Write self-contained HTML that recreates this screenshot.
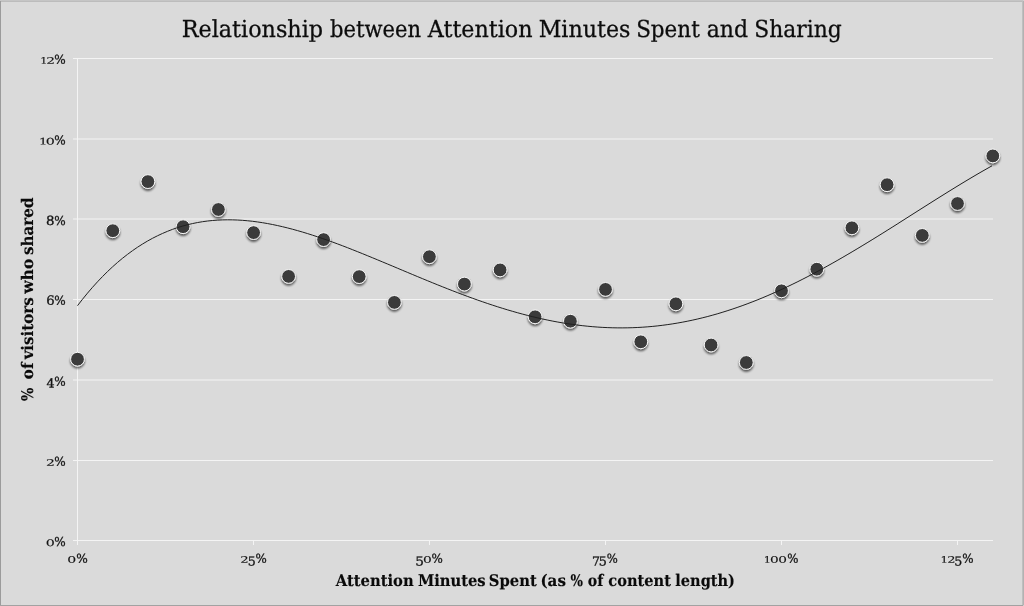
<!DOCTYPE html>
<html lang="en">
<head>
<meta charset="utf-8">
<title>Relationship between Attention Minutes Spent and Sharing</title>
<style>
html,body{margin:0;padding:0;background:#dadada;}
body{width:1024px;height:606px;overflow:hidden;position:relative;font-family:"DejaVu Serif", "Liberation Serif", serif;}
svg{display:block;position:absolute;left:0;top:0;}
text{font-family:"DejaVu Serif", "Liberation Serif", serif;fill:#111;text-rendering:geometricPrecision;}
.title{font-size:23.4px;fill:#0c0c0c;stroke:#0c0c0c;stroke-width:0.3px;}
.tick{font-size:13.0px;fill:#141414;stroke:#141414;stroke-width:0.3px;}
.tick .lo{font-size:9.0px;stroke-width:0.12px;}
.tick .hi{font-size:12.7px;}
.tick .de{font-size:12.5px;}
.tick .pc{font-size:12.4px;}
.axis{font-size:16.0px;font-weight:bold;fill:#0a0a0a;stroke:#0a0a0a;stroke-width:0.15px;}
.grid line{stroke:#f4f4f4;stroke-width:1.0;}
.pt circle{fill:#3b3b3b;stroke:#f8f8f8;stroke-width:1.0;}
</style>
</head>
<body>
<svg width="1024" height="606" viewBox="0 0 1024 606">
<defs>
<filter id="sh" x="-50%" y="-50%" width="200%" height="200%">
<feGaussianBlur in="SourceAlpha" stdDeviation="1.0"/>
<feOffset dx="0" dy="1.5" result="b"/>
<feComponentTransfer><feFuncA type="linear" slope="0.6"/></feComponentTransfer>
<feMerge><feMergeNode/><feMergeNode in="SourceGraphic"/></feMerge>
</filter>
</defs>
<rect x="0" y="0" width="1024" height="606" fill="#dadada"/>
<g shape-rendering="crispEdges">
<rect x="0" y="0" width="1024" height="1" fill="#c5c5c5"/>
<rect x="0" y="1" width="1024" height="1" fill="#bcbcbc"/>
<rect x="1022" y="1" width="1" height="605" fill="#bfbfbf"/>
<rect x="1023" y="1" width="1" height="605" fill="#b2b2b2"/>
<rect x="0" y="1" width="1" height="605" fill="#9b9b9b"/>
<rect x="0" y="605" width="1023" height="1" fill="#a2a2a2"/>
<rect x="0" y="0" width="1" height="1" fill="#c8c8c8"/>
<rect x="1023" y="0" width="1" height="1" fill="#d0d0d0"/>
<rect x="1023" y="605" width="1" height="1" fill="#d0d0d0"/>
</g>
<g class="grid">
<line x1="73" y1="58.50" x2="993" y2="58.50"/>
<line x1="73" y1="139.00" x2="993" y2="139.00"/>
<line x1="73" y1="219.00" x2="993" y2="219.00"/>
<line x1="73" y1="299.50" x2="993" y2="299.50"/>
<line x1="73" y1="380.00" x2="993" y2="380.00"/>
<line x1="73" y1="460.50" x2="993" y2="460.50"/>
<line x1="73" y1="540.50" x2="993" y2="540.50"/>
<line x1="77.5" y1="58" x2="77.5" y2="545"/>
<line x1="253.5" y1="541" x2="253.5" y2="545"/>
<line x1="429.5" y1="541" x2="429.5" y2="545"/>
<line x1="605.5" y1="541" x2="605.5" y2="545"/>
<line x1="781.5" y1="541" x2="781.5" y2="545"/>
<line x1="957.5" y1="541" x2="957.5" y2="545"/>
</g>
<text class="title" y="37.20"><tspan x="181.71" textLength="141.37" lengthAdjust="spacingAndGlyphs">Relationship</tspan> <tspan x="330.10" textLength="91.08" lengthAdjust="spacingAndGlyphs">between</tspan> <tspan x="427.82" textLength="104.74" lengthAdjust="spacingAndGlyphs">Attention</tspan> <tspan x="538.68" textLength="91.72" lengthAdjust="spacingAndGlyphs">Minutes</tspan> <tspan x="636.14" textLength="63.69" lengthAdjust="spacingAndGlyphs">Spent</tspan> <tspan x="706.65" textLength="41.32" lengthAdjust="spacingAndGlyphs">and</tspan> <tspan x="754.18" textLength="87.50" lengthAdjust="spacingAndGlyphs">Sharing</tspan></text>
<text class="tick" y="63.70" transform="rotate(0.1 53.3 59.7)"><tspan class="lo" x="40.19" textLength="7.10" lengthAdjust="spacingAndGlyphs">1</tspan><tspan class="lo" x="46.21" textLength="8.79" lengthAdjust="spacingAndGlyphs">2</tspan><tspan class="pc" x="54.24" textLength="11.44" lengthAdjust="spacingAndGlyphs">%</tspan></text>
<text class="tick" y="144.45" transform="rotate(0.1 52.8 140.4)"><tspan class="lo" x="39.01" textLength="8.29" lengthAdjust="spacingAndGlyphs">1</tspan><tspan class="lo" x="45.76" textLength="9.09" lengthAdjust="spacingAndGlyphs">0</tspan><tspan class="pc" x="54.24" textLength="11.44" lengthAdjust="spacingAndGlyphs">%</tspan></text>
<text class="tick" y="225.00" transform="rotate(0.1 56.0 221.0)"><tspan class="hi" x="46.06" textLength="8.49" lengthAdjust="spacingAndGlyphs">8</tspan><tspan class="pc" x="54.24" textLength="11.44" lengthAdjust="spacingAndGlyphs">%</tspan></text>
<text class="tick" y="304.85" transform="rotate(0.1 56.0 300.9)"><tspan class="hi" x="46.16" textLength="8.42" lengthAdjust="spacingAndGlyphs">6</tspan><tspan class="pc" x="54.24" textLength="11.44" lengthAdjust="spacingAndGlyphs">%</tspan></text>
<text class="tick" y="385.75" transform="rotate(0.1 55.9 381.8)"><tspan class="de" x="46.46" dy="1.8" textLength="8.08" lengthAdjust="spacingAndGlyphs">4</tspan><tspan class="pc" x="54.24" dy="-1.8" textLength="11.44" lengthAdjust="spacingAndGlyphs">%</tspan></text>
<text class="tick" y="465.85" transform="rotate(0.1 56.0 461.9)"><tspan class="lo" x="46.10" textLength="8.93" lengthAdjust="spacingAndGlyphs">2</tspan><tspan class="pc" x="54.24" textLength="11.44" lengthAdjust="spacingAndGlyphs">%</tspan></text>
<text class="tick" y="546.00" transform="rotate(0.1 55.9 542.0)"><tspan class="lo" x="45.76" textLength="9.09" lengthAdjust="spacingAndGlyphs">0</tspan><tspan class="pc" x="54.24" textLength="11.44" lengthAdjust="spacingAndGlyphs">%</tspan></text>
<text class="tick" y="562.75" transform="rotate(0.1 77.6 558.8)"><tspan class="lo" x="67.22" textLength="8.96" lengthAdjust="spacingAndGlyphs">0</tspan><tspan class="pc" x="76.18" textLength="11.54" lengthAdjust="spacingAndGlyphs">%</tspan></text>
<text class="tick" y="562.75" transform="rotate(0.1 253.6 558.8)"><tspan class="lo" x="240.20" textLength="8.46" lengthAdjust="spacingAndGlyphs">2</tspan><tspan class="de" x="247.77" dy="2.7" textLength="8.05" lengthAdjust="spacingAndGlyphs">5</tspan><tspan class="pc" x="255.45" dy="-2.7" textLength="11.26" lengthAdjust="spacingAndGlyphs">%</tspan></text>
<text class="tick" y="562.75" transform="rotate(0.1 429.3 558.8)"><tspan class="de" x="415.24" dy="2.7" textLength="8.72" lengthAdjust="spacingAndGlyphs">5</tspan><tspan class="lo" x="422.99" dy="-2.7" textLength="8.78" lengthAdjust="spacingAndGlyphs">0</tspan><tspan class="pc" x="431.59" textLength="11.31" lengthAdjust="spacingAndGlyphs">%</tspan></text>
<text class="tick" y="562.75" transform="rotate(0.1 605.1 558.8)"><tspan class="de" x="592.04" dy="2.7" textLength="8.02" lengthAdjust="spacingAndGlyphs">7</tspan><tspan class="de" x="598.82" textLength="8.12" lengthAdjust="spacingAndGlyphs">5</tspan><tspan class="pc" x="606.76" dy="-2.7" textLength="11.03" lengthAdjust="spacingAndGlyphs">%</tspan></text>
<text class="tick" y="562.75" transform="rotate(0.1 781.4 558.8)"><tspan class="lo" x="763.67" textLength="7.18" lengthAdjust="spacingAndGlyphs">1</tspan><tspan class="lo" x="770.05" textLength="8.71" lengthAdjust="spacingAndGlyphs">0</tspan><tspan class="lo" x="778.25" textLength="8.71" lengthAdjust="spacingAndGlyphs">0</tspan><tspan class="pc" x="787.20" textLength="11.20" lengthAdjust="spacingAndGlyphs">%</tspan></text>
<text class="tick" y="562.75" transform="rotate(0.1 957.5 558.8)"><tspan class="lo" x="940.61" textLength="7.52" lengthAdjust="spacingAndGlyphs">1</tspan><tspan class="lo" x="947.17" textLength="8.25" lengthAdjust="spacingAndGlyphs">2</tspan><tspan class="de" x="954.37" dy="2.7" textLength="8.05" lengthAdjust="spacingAndGlyphs">5</tspan><tspan class="pc" x="962.29" dy="-2.7" textLength="11.31" lengthAdjust="spacingAndGlyphs">%</tspan></text>
<text class="axis" y="585.80"><tspan x="335.73" textLength="77.96" lengthAdjust="spacingAndGlyphs">Attention</tspan> <tspan x="417.88" textLength="67.80" lengthAdjust="spacingAndGlyphs">Minutes</tspan> <tspan x="488.85" textLength="47.90" lengthAdjust="spacingAndGlyphs">Spent</tspan> <tspan x="540.42" textLength="25.50" lengthAdjust="spacingAndGlyphs">(as</tspan> <tspan x="570.48" textLength="12.43" lengthAdjust="spacingAndGlyphs">%</tspan> <tspan x="587.83" textLength="15.52" lengthAdjust="spacingAndGlyphs">of</tspan> <tspan x="608.31" textLength="62.60" lengthAdjust="spacingAndGlyphs">content</tspan> <tspan x="675.34" textLength="59.66" lengthAdjust="spacingAndGlyphs">length)</tspan></text>
<text class="axis" transform="translate(33.10,420) rotate(-90)" y="0"><tspan x="18.98" textLength="13.33" lengthAdjust="spacingAndGlyphs">%</tspan> <tspan x="40.87" textLength="16.58" lengthAdjust="spacingAndGlyphs">of</tspan> <tspan x="60.64" textLength="62.08" lengthAdjust="spacingAndGlyphs">visitors</tspan> <tspan x="126.16" textLength="35.15" lengthAdjust="spacingAndGlyphs">who</tspan> <tspan x="165.04" textLength="57.47" lengthAdjust="spacingAndGlyphs">shared</tspan></text>
<g class="pt" filter="url(#sh)">
<circle cx="77.5" cy="359.2" r="6.9"/>
<circle cx="112.8" cy="230.7" r="6.9"/>
<circle cx="147.9" cy="181.6" r="6.9"/>
<circle cx="183.1" cy="226.7" r="6.9"/>
<circle cx="218.4" cy="209.5" r="6.9"/>
<circle cx="253.6" cy="232.6" r="6.9"/>
<circle cx="288.6" cy="276.4" r="6.9"/>
<circle cx="323.6" cy="239.6" r="6.9"/>
<circle cx="359.2" cy="276.6" r="6.9"/>
<circle cx="394.4" cy="302.4" r="6.9"/>
<circle cx="429.4" cy="256.7" r="6.9"/>
<circle cx="464.4" cy="284.1" r="6.9"/>
<circle cx="500.1" cy="269.9" r="6.9"/>
<circle cx="535.1" cy="316.8" r="6.9"/>
<circle cx="570.4" cy="321.2" r="6.9"/>
<circle cx="605.5" cy="289.4" r="6.9"/>
<circle cx="640.8" cy="341.8" r="6.9"/>
<circle cx="675.9" cy="303.8" r="6.9"/>
<circle cx="711.1" cy="345.0" r="6.9"/>
<circle cx="746.3" cy="362.5" r="6.9"/>
<circle cx="781.5" cy="290.8" r="6.9"/>
<circle cx="816.8" cy="269.2" r="6.9"/>
<circle cx="851.9" cy="227.8" r="6.9"/>
<circle cx="887.1" cy="184.7" r="6.9"/>
<circle cx="922.3" cy="235.4" r="6.9"/>
<circle cx="957.5" cy="203.5" r="6.9"/>
<circle cx="992.8" cy="155.9" r="6.9"/>
</g>
<path d="M77.5,305.68 L82.5,299.26 L87.5,293.14 L92.5,287.32 L97.5,281.80 L102.5,276.55 L107.5,271.58 L112.5,266.89 L117.5,262.45 L122.5,258.28 L127.5,254.36 L132.5,250.68 L137.5,247.24 L142.5,244.04 L147.5,241.06 L152.5,238.31 L157.5,235.77 L162.5,233.44 L167.5,231.32 L172.4,229.40 L177.4,227.67 L182.4,226.13 L187.4,224.77 L192.4,223.58 L197.4,222.57 L202.4,221.72 L207.4,221.04 L212.4,220.51 L217.4,220.13 L222.4,219.90 L227.4,219.81 L232.4,219.85 L237.4,220.02 L242.4,220.32 L247.4,220.74 L252.4,221.28 L257.4,221.93 L262.4,222.68 L267.4,223.54 L272.4,224.49 L277.4,225.54 L282.4,226.68 L287.4,227.90 L292.4,229.20 L297.4,230.58 L302.4,232.03 L307.4,233.54 L312.4,235.13 L317.4,236.77 L322.4,238.46 L327.4,240.21 L332.4,242.01 L337.4,243.85 L342.4,245.73 L347.4,247.65 L352.3,249.60 L357.3,251.59 L362.3,253.59 L367.3,255.63 L372.3,257.68 L377.3,259.74 L382.3,261.83 L387.3,263.92 L392.3,266.01 L397.3,268.11 L402.3,270.22 L407.3,272.32 L412.3,274.41 L417.3,276.50 L422.3,278.57 L427.3,280.63 L432.3,282.68 L437.3,284.71 L442.3,286.71 L447.3,288.69 L452.3,290.65 L457.3,292.58 L462.3,294.47 L467.3,296.34 L472.3,298.16 L477.3,299.95 L482.3,301.70 L487.3,303.41 L492.3,305.07 L497.3,306.69 L502.3,308.26 L507.3,309.79 L512.3,311.26 L517.3,312.68 L522.3,314.04 L527.3,315.35 L532.3,316.60 L537.2,317.79 L542.2,318.92 L547.2,319.99 L552.2,321.00 L557.2,321.94 L562.2,322.82 L567.2,323.63 L572.2,324.37 L577.2,325.04 L582.2,325.65 L587.2,326.18 L592.2,326.65 L597.2,327.04 L602.2,327.36 L607.2,327.60 L612.2,327.77 L617.2,327.87 L622.2,327.89 L627.2,327.84 L632.2,327.71 L637.2,327.51 L642.2,327.23 L647.2,326.87 L652.2,326.44 L657.2,325.93 L662.2,325.34 L667.2,324.67 L672.2,323.93 L677.2,323.12 L682.2,322.22 L687.2,321.25 L692.2,320.21 L697.2,319.09 L702.2,317.89 L707.2,316.63 L712.2,315.28 L717.2,313.87 L722.1,312.38 L727.1,310.82 L732.1,309.19 L737.1,307.49 L742.1,305.72 L747.1,303.88 L752.1,301.97 L757.1,300.00 L762.1,297.97 L767.1,295.87 L772.1,293.70 L777.1,291.48 L782.1,289.19 L787.1,286.85 L792.1,284.45 L797.1,282.00 L802.1,279.49 L807.1,276.93 L812.1,274.32 L817.1,271.66 L822.1,268.95 L827.1,266.20 L832.1,263.40 L837.1,260.57 L842.1,257.69 L847.1,254.78 L852.1,251.83 L857.1,248.85 L862.1,245.84 L867.1,242.80 L872.1,239.74 L877.1,236.65 L882.1,233.55 L887.1,230.42 L892.1,227.28 L897.1,224.13 L902.0,220.97 L907.0,217.80 L912.0,214.62 L917.0,211.45 L922.0,208.27 L927.0,205.11 L932.0,201.94 L937.0,198.79 L942.0,195.66 L947.0,192.54 L952.0,189.44 L957.0,186.37 L962.0,183.32 L967.0,180.31 L972.0,177.32 L977.0,174.38 L982.0,171.48 L987.0,168.63 L992.0,165.82" fill="none" stroke="#202020" stroke-width="1.0"/>
</svg>
</body>
</html>
